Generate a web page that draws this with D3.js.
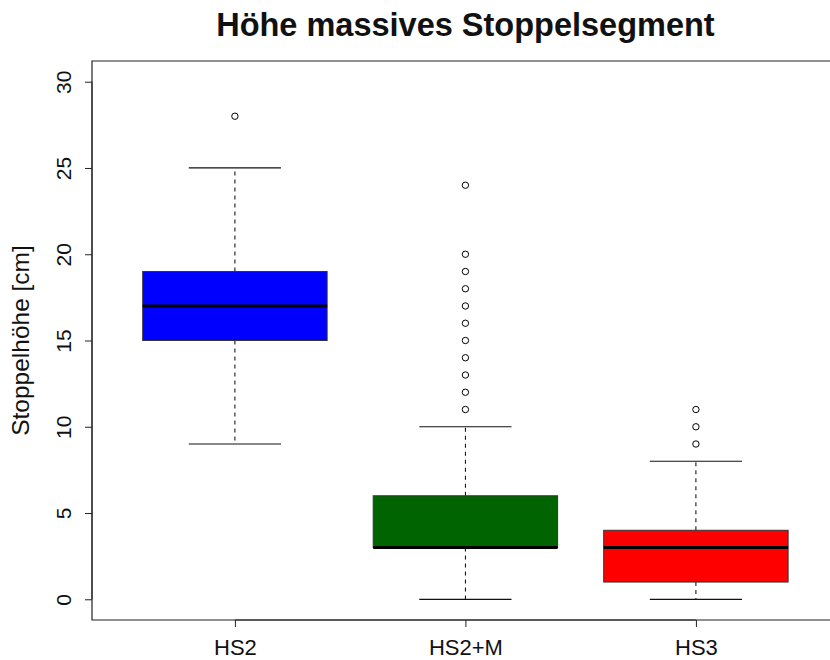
<!DOCTYPE html>
<html>
<head>
<meta charset="utf-8">
<script src="https://cdn.jsdelivr.net/npm/d3@7"></script>
<style>
  html, body { margin: 0; padding: 0; background: #fff; overflow: hidden; }
  svg { display: block; font-family: "Liberation Sans", Arial, sans-serif; }
</style>
</head>
<body>
<svg id="chart" width="830" height="660"></svg>
<script>
// Boxplot summary statistics per group
const categories   = ["HS2", "HS2+M", "HS3"];
const whiskerLow   = [9, 0, 0];
const q1           = [15, 3, 1];
const median       = [17, 3, 3];
const q3           = [19, 6, 4];
const whiskerHigh  = [25, 10, 8];
const outliers     = [
  [28],
  [24, 20, 19, 18, 17, 16, 15, 14, 13, 12, 11],
  [11, 10, 9]
];
const fillColors   = ["#0000ff", "#006400", "#ff0000"];
const yTicks       = [0, 5, 10, 15, 20, 25, 30];
const title        = "Höhe massives Stoppelsegment";
const yLabel       = "Stoppelhöhe [cm]";

const width = 830, height = 660;
const svg = d3.select("#chart");

// plot region (extends 4% beyond the data limits, as base graphics does)
const plotLeft = 92, plotTop = 61, plotBottom = 620;
const unitX = 230.5;
const plotRight = plotLeft + 3.24 * unitX;

const x = d3.scaleLinear().domain([0.38, 3.62]).range([plotLeft, plotRight]);
const y = d3.scaleLinear().domain([-1.2, 31.2]).range([plotBottom, plotTop]);

const boxW = 0.8;      // box width in category units
const capW = 0.4;      // whisker cap width in category units

const groups = categories.map((c, i) => ({
  name: c, pos: i + 1,
  lo: whiskerLow[i], q1: q1[i], med: median[i], q3: q3[i], hi: whiskerHigh[i],
  out: outliers[i], fill: fillColors[i]
}));

const g = svg.append("g");

// dashed whiskers
g.selectAll(".whisk-lo").data(groups).join("line")
  .attr("x1", d => x(d.pos)).attr("x2", d => x(d.pos))
  .attr("y1", d => y(d.q1)).attr("y2", d => y(d.lo))
  .attr("stroke", "#000").attr("stroke-width", 1).attr("stroke-dasharray", "4,4");
g.selectAll(".whisk-hi").data(groups).join("line")
  .attr("x1", d => x(d.pos)).attr("x2", d => x(d.pos))
  .attr("y1", d => y(d.q3)).attr("y2", d => y(d.hi))
  .attr("stroke", "#000").attr("stroke-width", 1).attr("stroke-dasharray", "4,4");

// staples
["lo", "hi"].forEach(k => {
  g.selectAll(".cap-" + k).data(groups).join("line")
    .attr("x1", d => x(d.pos - capW / 2)).attr("x2", d => x(d.pos + capW / 2))
    .attr("y1", d => y(d[k])).attr("y2", d => y(d[k]))
    .attr("stroke", "#111").attr("stroke-width", 1.2);
});

// boxes
g.selectAll(".box").data(groups).join("rect")
  .attr("x", d => x(d.pos - boxW / 2))
  .attr("width", d => x(d.pos + boxW / 2) - x(d.pos - boxW / 2))
  .attr("y", d => y(d.q3))
  .attr("height", d => y(d.q1) - y(d.q3))
  .attr("fill", d => d.fill)
  .attr("stroke", "#333").attr("stroke-width", 1);

// medians
g.selectAll(".med").data(groups).join("line")
  .attr("x1", d => x(d.pos - boxW / 2)).attr("x2", d => x(d.pos + boxW / 2))
  .attr("y1", d => y(d.med)).attr("y2", d => y(d.med))
  .attr("stroke", "#000").attr("stroke-width", 3);

// outliers
groups.forEach(d => {
  g.selectAll(null).data(d.out).join("circle")
    .attr("cx", x(d.pos)).attr("cy", v => y(v)).attr("r", 3.2)
    .attr("fill", "none").attr("stroke", "#000").attr("stroke-width", 1);
});

// frame: the right edge of the plot box lies beyond the canvas width
const frameRight = Math.min(plotRight, width + 2);
svg.append("path")
  .attr("d", `M${frameRight},${plotTop}H${plotLeft}V${plotBottom}H${frameRight}`)
  .attr("fill", "none").attr("stroke", "#222").attr("stroke-width", 1.2);

// y axis
const yAxis = svg.append("g").attr("transform", `translate(${plotLeft},0)`)
  .call(d3.axisLeft(y).tickValues(yTicks).tickSize(7).tickSizeOuter(0).tickFormat(d3.format("d")));
yAxis.select(".domain").attr("stroke", "#222")
  .attr("d", `M0,${y(yTicks[0])}V${y(yTicks[yTicks.length - 1])}`);
yAxis.selectAll(".tick line").attr("stroke", "#222");
yAxis.selectAll(".tick text")
  .attr("x", null).attr("dy", null)
  .attr("transform", "translate(-21,0) rotate(-90)")
  .attr("text-anchor", "middle")
  .attr("font-family", "Liberation Sans, Arial, sans-serif")
  .attr("font-size", 21).attr("fill", "#111");

// x axis
const xAxis = svg.append("g").attr("transform", `translate(0,${plotBottom})`)
  .call(d3.axisBottom(x).tickValues(groups.map(d => d.pos)).tickSize(7).tickSizeOuter(0)
    .tickFormat((d, i) => categories[i]));
xAxis.select(".domain").attr("stroke", "#222")
  .attr("d", `M${x(1)},0H${x(3)}`);
xAxis.selectAll(".tick line").attr("stroke", "#222");
xAxis.selectAll(".tick text")
  .attr("y", 35).attr("dy", null)
  .attr("font-family", "Liberation Sans, Arial, sans-serif")
  .attr("font-size", 22).attr("fill", "#111");

// y axis title
svg.append("text")
  .attr("transform", `translate(29,${(plotTop + plotBottom) / 2}) rotate(-90)`)
  .attr("text-anchor", "middle")
  .attr("font-size", 24.5).attr("fill", "#111")
  .text(yLabel);

// title
svg.append("text")
  .attr("x", (plotLeft + plotRight) / 2).attr("y", 36)
  .attr("text-anchor", "middle")
  .attr("font-size", 32.5).attr("font-weight", "bold").attr("fill", "#111")
  .text(title);
</script>
</body>
</html>
